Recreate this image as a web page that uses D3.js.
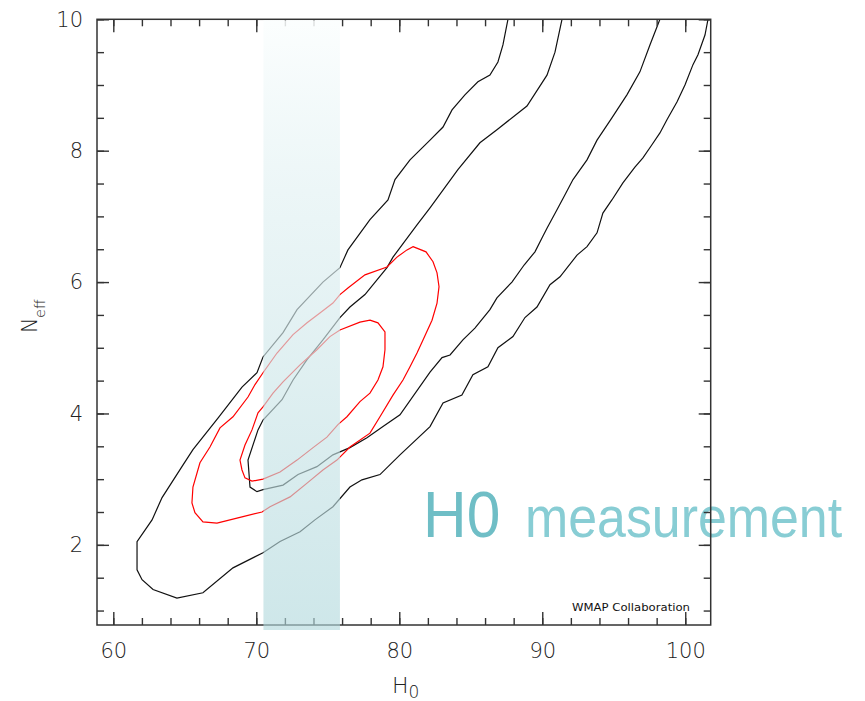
<!DOCTYPE html>
<html>
<head>
<meta charset="utf-8">
<script src="https://cdn.jsdelivr.net/npm/d3@7"></script>
<style>
  html, body { margin: 0; padding: 0; background: #ffffff; }
  svg { display: block; }
</style>
</head>
<body>
<svg id="chart" width="865" height="701"></svg>
<script>
// ---------------- DATA ----------------
// WMAP-only constraints in the (H0, Neff) plane: contours as [H0, Neff] points
const wmapOuter = [
  [87.60,10.00],[87.25,9.61],[86.90,9.35],[86.34,9.15],[85.50,9.05],[84.59,8.85],[83.69,8.62],
  [83.06,8.36],[82.15,8.16],[80.75,7.86],[79.70,7.56],[79.21,7.25],[77.95,6.95],[76.41,6.49],
  [75.85,6.22],[74.66,6.00],[72.85,5.58],[71.87,5.23],[70.47,4.86],[70.05,4.62],[69.00,4.40],
  [67.32,3.93],[65.57,3.45],[64.80,3.19],[63.41,2.72],[62.71,2.38],[61.66,2.05],[61.66,1.62],
  [62.01,1.47],[62.78,1.32],[64.45,1.19],[66.27,1.27],[68.37,1.65],[70.47,1.88],[71.66,2.05],
  [73.06,2.20],[74.10,2.38],[75.36,2.58],[76.55,2.88],[77.39,2.99],[78.65,3.07],[80.05,3.37],
  [82.15,3.80],[83.06,4.16],[84.38,4.28],[85.15,4.59],[86.20,4.71],[86.90,5.00],[87.95,5.17],
  [88.79,5.46],[89.63,5.62],[90.54,5.96],[91.24,6.08],[92.43,6.41],[93.13,6.54],[93.83,6.75],
  [94.24,7.05],[94.87,7.25],[95.64,7.51],[96.48,7.75],[97.04,7.89],[97.67,8.09],[98.23,8.27],
  [98.72,8.47],[99.42,8.74],[99.98,9.00],[100.54,9.31],[100.89,9.46],[101.38,9.76],[101.59,10.00]
];
const wmapInner = [
  [91.38,10.00],[90.89,9.50],[90.33,9.15],[88.93,8.68],[86.83,8.32],[85.64,8.12],[84.10,7.71],
  [82.15,7.13],[81.24,6.87],[79.56,6.38],[79.14,6.22],[77.60,5.81],[76.55,5.62],[75.85,5.46],
  [74.66,5.12],[73.55,4.82],[72.57,4.51],[71.80,4.21],[70.47,3.90],[70.12,3.75],[69.42,3.29],
  [69.56,2.88],[70.05,2.81],[70.47,2.84],[71.87,2.91],[72.92,3.07],[74.24,3.19],[75.36,3.37],
  [76.55,3.48],[77.74,3.63],[78.86,3.80],[80.05,3.98],[82.15,4.63],[82.99,4.85],[83.55,4.89],
  [84.45,5.12],[85.29,5.30],[86.34,5.58],[86.83,5.76],[87.88,6.00],[88.73,6.26],[89.49,6.46],
  [89.98,6.67],[90.33,6.82],[91.03,7.10],[91.59,7.33],[92.15,7.56],[93.13,7.86],[93.83,8.16],
  [94.87,8.50],[95.92,8.85],[96.83,9.20],[97.53,9.61],[98.23,10.00]
];
// WMAP + BAO + H0 (red) contours, closed
const combOuter = [
  [80.96,6.54],[81.87,6.46],[82.36,6.31],[82.64,6.14],[82.78,5.93],[82.64,5.68],[82.29,5.42],
  [81.66,5.12],[81.24,4.92],[80.75,4.71],[80.26,4.51],[79.56,4.28],[78.65,3.95],[77.95,3.70],
  [76.55,3.49],[75.64,3.29],[74.66,3.14],[73.55,2.94],[72.36,2.73],[70.96,2.58],[70.40,2.50],
  [69.07,2.43],[67.25,2.33],[66.27,2.35],[65.71,2.49],[65.50,2.64],[65.57,2.88],[66.06,3.25],
  [66.76,3.49],[67.46,3.78],[68.37,3.95],[69.42,4.25],[69.91,4.44],[70.47,4.62],[71.45,4.92],
  [72.57,5.20],[73.55,5.38],[74.45,5.53],[75.36,5.68],[75.85,5.81],[76.41,5.91],[77.60,6.11],
  [79.14,6.23],[79.84,6.38],[80.54,6.49]
];
const combInner = [
  [77.95,5.42],[78.51,5.38],[79.00,5.24],[79.00,4.97],[78.86,4.71],[78.51,4.51],[77.95,4.31],
  [77.25,4.18],[76.34,3.95],[75.71,3.83],[74.94,3.64],[73.97,3.48],[72.85,3.29],[71.66,3.11],
  [70.47,3.00],[69.70,2.97],[69.21,3.02],[69.00,3.14],[68.86,3.29],[69.21,3.52],[69.70,3.75],
  [70.12,4.01],[70.47,4.10],[71.17,4.31],[71.87,4.48],[73.06,4.74],[74.24,4.97],[75.15,5.17],
  [75.85,5.27],[77.25,5.39]
];
// H0 measurement band (km/s/Mpc)
const h0Band = [70.5, 75.85];

const xMajor = [60, 70, 80, 90, 100];
const xMinor = [60,62,64,66,68,70,72,74,76,78,80,82,84,86,88,90,92,94,96,98,100];
const yMajor = [2, 4, 6, 8, 10];
const yMinor = [1,1.5,2,2.5,3,3.5,4,4.5,5,5.5,6,6.5,7,7.5,8,8.5,9,9.5,10];

// ---------------- LAYOUT ----------------
const svg = d3.select("#chart");
const L = 97, R = 710.7, T = 19.3, B = 625;
const x = d3.scaleLinear().domain([58.86, 101.78]).range([L, R]);
const y = d3.scaleLinear().domain([0.78, 10]).range([B, T]);

const defs = svg.append("defs");
defs.append("clipPath").attr("id", "plotclip")
  .append("rect").attr("x", L).attr("y", T).attr("width", R - L).attr("height", B - T);

const grad = defs.append("linearGradient").attr("id", "bandgrad")
  .attr("gradientUnits", "userSpaceOnUse")
  .attr("x1", 0).attr("y1", T).attr("x2", 0).attr("y2", 630);
grad.append("stop").attr("offset", 0).attr("stop-color", "#fbfefe").attr("stop-opacity", 0.85);
grad.append("stop").attr("offset", 0.45).attr("stop-color", "#d8ecee").attr("stop-opacity", 0.66);
grad.append("stop").attr("offset", 1).attr("stop-color", "#b0d8dc").attr("stop-opacity", 0.62);

const line = d3.line().x(d => x(d[0])).y(d => y(d[1])).curve(d3.curveLinear);
const closedLine = d3.line().x(d => x(d[0])).y(d => y(d[1])).curve(d3.curveLinearClosed);

const plot = svg.append("g").attr("clip-path", "url(#plotclip)");
plot.append("path").datum(wmapOuter).attr("d", line)
  .attr("fill", "none").attr("stroke", "#111").attr("stroke-width", 1.2);
plot.append("path").datum(wmapInner).attr("d", line)
  .attr("fill", "none").attr("stroke", "#111").attr("stroke-width", 1.2);
plot.append("path").datum(combOuter).attr("d", closedLine)
  .attr("fill", "none").attr("stroke", "#ff0000").attr("stroke-width", 1.2);
plot.append("path").datum(combInner).attr("d", closedLine)
  .attr("fill", "none").attr("stroke", "#ff0000").attr("stroke-width", 1.2);

// annotation text (drawn below axes), horizontally condensed via transform
svg.append("text").attr("transform", "translate(423,537) scale(0.93,1)")
  .attr("font-family", "'Liberation Sans', Arial, sans-serif")
  .attr("font-size", 65).attr("fill", "#6fbec6").text("H0");
svg.append("text").attr("transform", "translate(525,537) scale(0.91,1)")
  .attr("font-family", "'Liberation Sans', Arial, sans-serif")
  .attr("font-size", 57).attr("fill", "#88cdd4").text("measurement");

svg.append("text").attr("x", 572).attr("y", 611)
  .attr("font-family", "'DejaVu Sans', sans-serif").attr("font-size", 11)
  .attr("fill", "#111").attr("textLength", 118).attr("lengthAdjust", "spacingAndGlyphs")
  .text("WMAP Collaboration");

// ---------------- AXES ----------------
const tickFont = "'DejaVu Sans', sans-serif";
function styleAxis(g) {
  g.select(".domain").remove();
  g.selectAll(".tick line").attr("stroke", "#333").attr("stroke-width", 1.4);
  g.selectAll(".tick text").attr("font-family", tickFont).attr("font-size", 21)
    .attr("font-weight", 200).attr("fill", "#222");
}
// bottom
svg.append("g").attr("transform", `translate(0,${B})`)
  .call(d3.axisBottom(x).tickValues(xMinor).tickSize(-7).tickSizeOuter(0).tickFormat(""))
  .call(styleAxis);
svg.append("g").attr("transform", `translate(0,${B})`)
  .call(d3.axisBottom(x).tickValues(xMajor).tickSize(-13).tickSizeOuter(0).tickPadding(18).tickFormat(d3.format("d")))
  .call(styleAxis);
// top
svg.append("g").attr("transform", `translate(0,${T})`)
  .call(d3.axisTop(x).tickValues(xMinor).tickSize(-7).tickSizeOuter(0).tickFormat(""))
  .call(styleAxis);
svg.append("g").attr("transform", `translate(0,${T})`)
  .call(d3.axisTop(x).tickValues(xMajor).tickSize(-13).tickSizeOuter(0).tickFormat(""))
  .call(styleAxis);
// left
svg.append("g").attr("transform", `translate(${L},0)`)
  .call(d3.axisLeft(y).tickValues(yMinor).tickSize(-7).tickSizeOuter(0).tickFormat(""))
  .call(styleAxis);
svg.append("g").attr("transform", `translate(${L},0)`)
  .call(d3.axisLeft(y).tickValues(yMajor).tickSize(-12).tickSizeOuter(0).tickPadding(14).tickFormat(d3.format("d")))
  .call(styleAxis);
// right
svg.append("g").attr("transform", `translate(${R},0)`)
  .call(d3.axisRight(y).tickValues(yMinor).tickSize(-7).tickSizeOuter(0).tickFormat(""))
  .call(styleAxis);
svg.append("g").attr("transform", `translate(${R},0)`)
  .call(d3.axisRight(y).tickValues(yMajor).tickSize(-12).tickSizeOuter(0).tickFormat(""))
  .call(styleAxis);

// frame
svg.append("rect").attr("x", L).attr("y", T).attr("width", R - L).attr("height", B - T)
  .attr("fill", "none").attr("stroke", "#333").attr("stroke-width", 1.5);

// axis titles
const xt = svg.append("text").attr("x", 392).attr("y", 693)
  .attr("font-family", tickFont).attr("font-weight", 200).attr("fill", "#222");
xt.append("tspan").attr("font-size", 22).text("H");
xt.append("tspan").attr("font-size", 17).attr("dy", 5).text("0");

const yt = svg.append("text").attr("transform", "translate(37,333) rotate(-90)")
  .attr("font-family", tickFont).attr("font-weight", 200).attr("fill", "#222");
yt.append("tspan").attr("font-size", 20.5).text("N");
yt.append("tspan").attr("font-size", 14).attr("dy", 8).text("eff");

// H0 measurement band (overlay on top)
svg.append("rect")
  .attr("x", x(h0Band[0])).attr("width", x(h0Band[1]) - x(h0Band[0]))
  .attr("y", T + 1).attr("height", 630 - T - 1)
  .attr("fill", "url(#bandgrad)");
</script>
</body>
</html>
